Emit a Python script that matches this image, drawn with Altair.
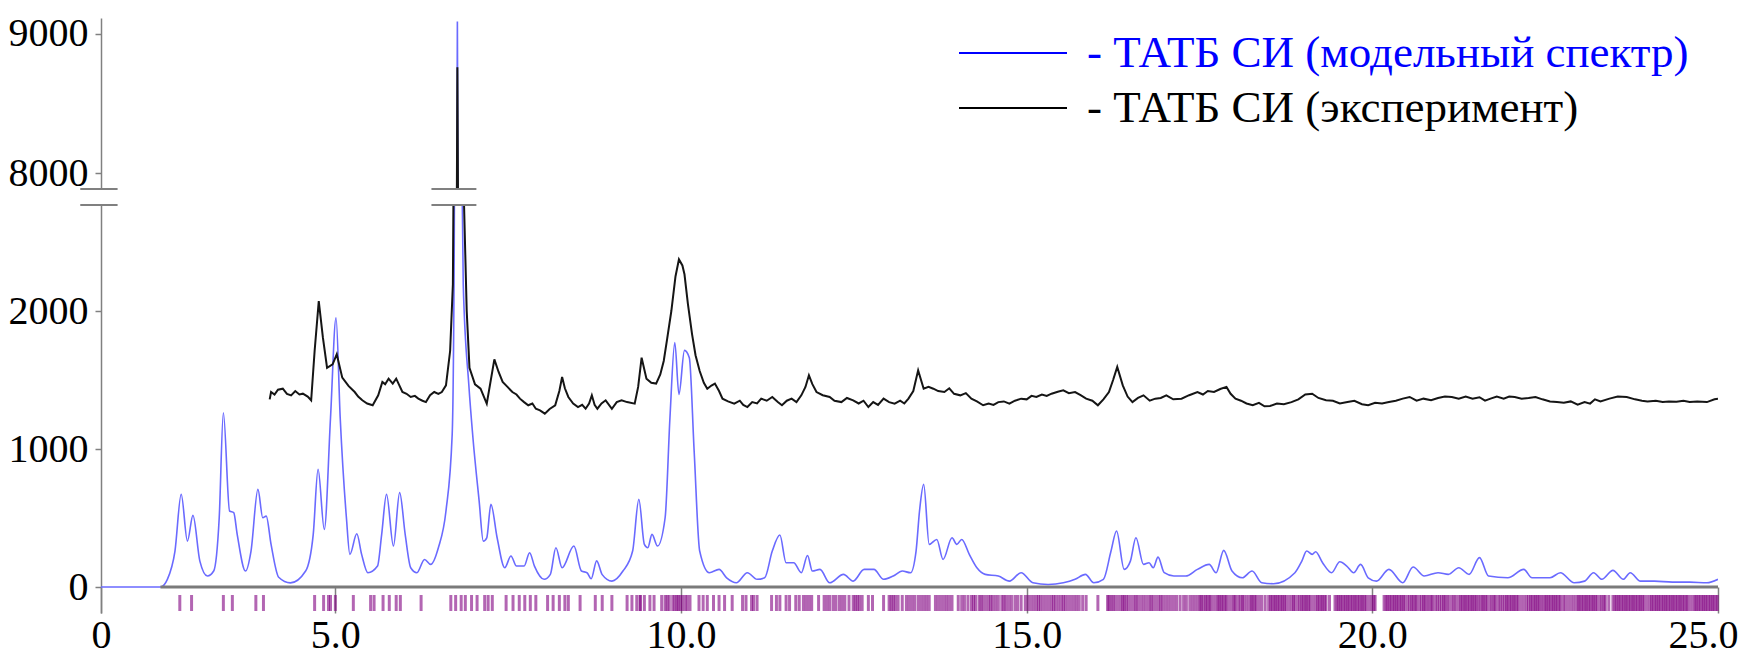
import altair as alt
import pandas as pd

# ---------------- data ----------------
model_x = [1.61, 2.47, 2.57, 2.68, 2.77, 2.86, 2.94, 3.04, 3.15, 3.24, 3.32, 3.38, 3.47, 3.53, 3.58,
           3.70, 3.78, 3.88, 3.95, 4.00, 4.07, 4.18, 4.35, 4.57, 4.68, 4.75, 4.84, 4.93, 5.01, 5.07,
           5.16, 5.21, 5.31, 5.38, 5.47, 5.61, 5.67, 5.74, 5.84, 5.93, 6.01, 6.09, 6.18, 6.29, 6.38,
           6.49, 6.60, 6.69, 6.72, 6.75, 6.765, 6.78, 6.82, 6.85, 6.93, 6.99, 7.08, 7.14, 7.19, 7.25,
           7.34, 7.45, 7.54, 7.62, 7.73, 7.81, 7.88, 8.02, 8.11, 8.19, 8.28, 8.45, 8.56, 8.64, 8.70,
           8.78, 8.86, 9.00, 9.16, 9.30, 9.39, 9.47, 9.52, 9.58, 9.66, 9.77, 9.84, 9.91, 9.97, 10.05,
           10.12, 10.19, 10.27, 10.41, 10.55, 10.66, 10.80, 10.96, 11.10, 11.21, 11.32, 11.43, 11.52,
           11.63, 11.74, 11.83, 11.90, 12.01, 12.15, 12.35, 12.49, 12.65, 12.79, 12.93, 13.07, 13.20,
           13.32, 13.40, 13.45, 13.51, 13.59, 13.70, 13.79, 13.92, 13.99, 14.06, 14.17, 14.28, 14.40,
           14.59, 14.75, 14.92, 15.09, 15.31, 15.53, 15.70, 15.85, 15.97, 16.11, 16.22, 16.30, 16.41,
           16.50, 16.58, 16.69, 16.77, 16.83, 16.90, 16.99, 17.13, 17.30, 17.47, 17.64, 17.74, 17.85,
           17.97, 18.12, 18.26, 18.40, 18.57, 18.88, 18.98, 19.05, 19.13, 19.18, 19.28, 19.41, 19.53,
           19.63, 19.73, 19.83, 19.94, 20.06, 20.24, 20.44, 20.59, 20.75, 20.95, 21.10, 21.25, 21.40,
           21.55, 21.68, 21.96, 22.19, 22.31, 22.57, 22.72, 22.92, 23.07, 23.20, 23.32, 23.48, 23.63,
           23.73, 23.88, 24.08, 24.34, 24.59, 24.84, 25.00]
model_y = [0, 0, 56, 261, 672, 333, 519, 188, 80, 116, 502, 1263, 551, 539, 382,
           116, 261, 708, 502, 514, 309, 71, 30, 116, 382, 853, 418, 1227, 1951, 1227,
           502, 237, 386, 237, 104, 152, 382, 672, 297, 684, 382, 140, 104, 200, 164,
           285, 551, 1106, 2500, 7000, 9090, 7000, 3500, 2193, 1469, 1082, 623, 333, 357, 599,
           357, 140, 225, 152, 152, 249, 152, 56, 92, 285, 140, 297, 116, 104, 60,
           190, 90, 43, 116, 261, 635, 309, 285, 382, 297, 502, 1227, 1771, 1396, 1715,
           1662, 985, 261, 104, 128, 67, 31, 104, 56, 67, 261, 377, 176,
           176, 104, 229, 116, 128, 31, 92, 43, 128, 128, 56, 80, 116,
           104, 261, 551, 744, 309, 345, 200, 357, 309, 345, 237, 140, 92,
           80, 43, 104, 31, 19, 31, 56, 92, 31, 56, 261, 406, 128,
           188, 357, 164, 176, 140, 217, 104, 80, 80, 128, 164, 104, 266,
           116, 67, 116, 31, 24, 104, 188, 261, 237, 256, 176, 104, 183,
           152, 104, 164, 67, 43, 128, 31, 145, 80, 104, 92, 140, 92,
           213, 80, 67, 128, 67, 67, 104, 31, 43, 104, 56, 121, 56,
           104, 43, 43, 36, 36, 31, 56]

exp_x = [4.05, 4.07, 4.12, 4.17, 4.24, 4.30, 4.36, 4.42, 4.48, 4.53, 4.60, 4.65, 4.70, 4.76, 4.82,
         4.88, 4.96, 5.02, 5.10, 5.19, 5.28, 5.33, 5.39, 5.46, 5.54, 5.62, 5.68, 5.72, 5.77, 5.83,
         5.88, 5.97, 6.03, 6.09, 6.15, 6.20, 6.26, 6.31, 6.37, 6.43, 6.49, 6.54, 6.60, 6.66, 6.70,
         6.73, 6.765, 6.80, 6.85, 6.90, 6.94, 7.02, 7.10, 7.19, 7.30, 7.36, 7.42, 7.49, 7.56, 7.62,
         7.67, 7.73, 7.79, 7.85, 7.90, 7.96, 8.03, 8.10, 8.18, 8.24, 8.28, 8.32, 8.37, 8.44, 8.51,
         8.57, 8.62, 8.67, 8.71, 8.75, 8.79, 8.85, 8.91, 9.00, 9.07, 9.14, 9.22, 9.33, 9.38, 9.43,
         9.50, 9.57, 9.64, 9.70, 9.75, 9.80, 9.86, 9.92, 9.97, 10.02, 10.05, 10.10, 10.16, 10.21,
         10.27, 10.33, 10.38, 10.44, 10.49, 10.55, 10.60, 10.68, 10.77, 10.85, 10.90, 10.96, 11.03,
         11.10, 11.16, 11.24, 11.32, 11.40, 11.46, 11.53, 11.60, 11.67, 11.74, 11.80, 11.85, 11.90,
         11.96, 12.05, 12.15, 12.22, 12.32, 12.40, 12.49, 12.57, 12.64, 12.71, 12.78, 12.85, 12.93,
         13.01, 13.09, 13.17, 13.23, 13.29, 13.36, 13.43, 13.51, 13.58, 13.65, 13.72, 13.81, 13.88,
         13.95, 14.04, 14.12, 14.20, 14.28, 14.37, 14.45, 14.52, 14.59, 14.67, 14.75, 14.83, 14.92,
         15.00, 15.07, 15.14, 15.22, 15.29, 15.36, 15.45, 15.53, 15.61, 15.70, 15.78, 15.86, 15.95,
         16.03, 16.11, 16.19, 16.25, 16.31, 16.39, 16.46, 16.53, 16.61, 16.69, 16.78, 16.86, 16.94,
         17.02, 17.12, 17.24, 17.35, 17.47, 17.55, 17.62, 17.71, 17.80, 17.89, 17.95, 18.02, 18.10,
         18.18, 18.27, 18.36, 18.44, 18.52, 18.62, 18.72, 18.83, 18.93, 19.03, 19.13, 19.22, 19.33,
         19.43, 19.53, 19.64, 19.74, 19.85, 19.94, 20.04, 20.14, 20.24, 20.34, 20.44, 20.54, 20.64,
         20.74, 20.85, 20.95, 21.05, 21.15, 21.25, 21.35, 21.45, 21.55, 21.63, 21.71, 21.80, 21.90,
         21.98, 22.06, 22.16, 22.26, 22.36, 22.46, 22.57, 22.67, 22.77, 22.87, 22.97, 23.07, 23.15,
         23.22, 23.30, 23.43, 23.55, 23.68, 23.80, 23.90, 23.98, 24.10, 24.20, 24.29, 24.40, 24.50,
         24.59, 24.70, 24.84, 24.95, 25.00]
exp_y = [1360, 1413, 1395, 1430, 1437, 1400, 1389, 1420, 1395, 1401, 1380, 1353, 1710, 2072, 1807,
         1589, 1614, 1686, 1517, 1457, 1413, 1380, 1353, 1330, 1317, 1389, 1486, 1470, 1510, 1474,
         1510, 1413, 1400, 1377, 1385, 1365, 1350, 1340, 1390, 1413, 1400, 1413, 1461, 1710, 2193,
         4500, 8760, 5200, 3000, 2000, 1589, 1469, 1437, 1329, 1650, 1560, 1486, 1450, 1413, 1395,
         1365, 1340, 1317, 1330, 1292, 1280, 1256, 1290, 1317, 1420, 1522, 1440, 1377, 1330, 1304,
         1320, 1292, 1330, 1389, 1320, 1292, 1330, 1353, 1292, 1340, 1353, 1340, 1329, 1450, 1662,
         1510, 1480, 1474, 1540, 1638, 1800, 2000, 2250, 2374, 2330, 2266, 2050, 1831, 1680,
         1565, 1480, 1437, 1460, 1474, 1420, 1365, 1345, 1329, 1350, 1320, 1304, 1340,
         1330, 1365, 1350, 1377, 1340, 1317, 1350, 1365, 1340, 1389, 1450, 1534, 1470,
         1413, 1390, 1377, 1350, 1340, 1370, 1353, 1330, 1350, 1304, 1340, 1320, 1365,
         1340, 1329, 1350, 1330, 1365, 1420, 1570, 1437, 1450, 1437, 1420, 1413, 1440,
         1400, 1389, 1405, 1365, 1345, 1317, 1330, 1320, 1340, 1345, 1329, 1350, 1365,
         1360, 1385, 1377, 1395, 1385, 1401, 1415, 1425, 1405, 1413, 1390, 1365, 1350,
         1317, 1360, 1413, 1500, 1595, 1461, 1380, 1340, 1370, 1389, 1350, 1365, 1370,
         1389, 1360, 1365, 1390, 1413, 1395, 1420, 1413, 1435, 1450, 1400, 1365, 1350,
         1330, 1317, 1335, 1310, 1312, 1330, 1325, 1340, 1360, 1395, 1401, 1370, 1353,
         1350, 1330, 1340, 1350, 1325, 1317, 1335, 1330, 1340, 1350, 1365, 1377, 1350,
         1365, 1353, 1370, 1380, 1377, 1365, 1380, 1365, 1375, 1350, 1365, 1380, 1365,
         1380, 1377, 1365, 1370, 1377, 1360, 1345, 1340, 1335, 1345, 1321, 1340, 1329,
         1360, 1345, 1365, 1380, 1377, 1360, 1350, 1345, 1350, 1340, 1345, 1342, 1350,
         1340, 1345, 1340, 1360, 1365]

reflections_low = [2.75, 2.92, 3.38, 3.51, 3.85, 3.96, 4.70, 4.83, 4.90, 4.93, 5.00, 5.26, 5.51,
                   5.56, 5.69, 5.78, 5.88, 5.94, 6.24, 6.67, 6.74, 6.82, 6.88, 6.97, 7.05, 7.16,
                   7.21, 7.27, 7.47, 7.57, 7.66, 7.74, 7.82, 7.90, 8.07, 8.15, 8.24, 8.32, 8.37,
                   8.54, 8.76]
reflections_mid = [8.86, 9.00, 9.22, 9.29, 9.36, 9.41, 9.47, 9.55, 9.61, 9.72, 9.77, 9.83, 9.88,
                   9.94, 9.99, 10.06, 10.13, 10.26, 10.32, 10.38, 10.47, 10.55, 10.63, 10.74,
                   10.89, 10.94, 11.02, 11.10, 11.31, 11.38, 11.43, 11.52, 11.57, 11.66, 11.71,
                   11.77, 11.85, 11.89, 11.99, 12.07, 12.15, 12.24, 12.29, 12.37, 12.43, 12.49,
                   12.55, 12.62, 12.71, 12.77, 12.93, 13.01, 13.07, 13.14, 13.20, 13.26, 13.34,
                   13.43, 13.51, 13.59, 13.68, 13.76, 13.84, 13.92, 14.01, 14.06, 14.15, 14.20,
                   14.26, 14.31, 14.37, 14.45, 14.51, 14.59, 14.64, 14.70, 14.78, 14.87, 14.92,
                   14.98, 15.06, 15.14, 15.20, 15.28, 15.36, 15.42, 15.50, 15.56, 15.64, 15.72,
                   15.81, 15.86, 16.03, 16.17, 16.22, 16.28, 16.36, 16.41, 16.47, 16.55, 16.61,
                   16.69, 16.77, 16.83, 16.91, 16.97, 17.05, 17.13, 17.22, 17.27, 17.36, 17.44]
reflections_mid2 = [9.41, 9.80, 9.91, 9.96, 10.02, 10.09, 11.05, 11.81, 12.11, 12.20, 12.33,
                    12.52, 12.58, 13.04, 13.10, 13.30, 13.38, 13.47, 13.55, 13.72, 13.80, 13.88,
                    14.10, 14.23, 14.34, 14.41, 14.48, 14.55, 14.67, 14.74, 14.83, 15.02, 15.10,
                    15.17, 15.24, 15.32, 15.39, 15.46, 15.53, 15.60, 15.68, 15.76, 16.19, 16.25,
                    16.32, 16.39, 16.44, 16.51, 16.58, 16.65, 16.73, 16.80, 16.87, 16.94, 17.01,
                    17.09, 17.17, 17.31, 17.40, 17.48]
reflections_high = [17.51, 17.56, 17.61, 17.66, 17.74, 17.79, 17.84, 17.89, 17.97, 18.02, 18.09,
                    18.14, 18.22, 18.27, 18.32, 18.40, 18.50, 18.55, 18.60, 18.65, 18.70, 18.75,
                    18.83, 18.88, 18.95, 19.00, 19.05, 19.10, 19.18, 19.23, 19.28, 19.33, 19.46,
                    19.51, 19.56, 19.61, 19.66, 19.71, 19.76, 19.81, 19.86, 19.91, 19.99, 20.04,
                    20.17, 20.22, 20.27, 20.32, 20.37, 20.42, 20.47, 20.54, 20.59, 20.64, 20.71,
                    20.76, 20.82, 20.87, 20.94, 21.00, 21.05, 21.11, 21.18, 21.25, 21.30, 21.35,
                    21.40, 21.45, 21.50, 21.56, 21.61, 21.66, 21.73, 21.78, 21.85, 21.91, 21.96,
                    22.01, 22.06, 22.11, 22.19, 22.26, 22.31, 22.36, 22.41, 22.47, 22.52, 22.57,
                    22.62, 22.67, 22.72, 22.79, 22.87, 22.95, 23.00, 23.05, 23.10, 23.15, 23.20,
                    23.25, 23.32, 23.37, 23.48, 23.53, 23.58, 23.63, 23.68, 23.73, 23.78, 23.83,
                    23.88, 23.93, 24.01, 24.06, 24.11, 24.16, 24.21, 24.26, 24.31, 24.36, 24.41,
                    24.46, 24.51, 24.56, 24.64, 24.69, 24.74, 24.79, 24.84, 24.89, 24.94, 24.99]
reflections_high2 = [17.53, 17.59, 17.64, 17.70, 17.77, 17.82, 17.87, 17.93, 18.00, 18.06, 18.12,
                     18.18, 18.25, 18.30, 18.36, 18.45, 18.53, 18.58, 18.63, 18.68, 18.73, 18.79,
                     18.86, 18.92, 18.98, 19.03, 19.08, 19.14, 19.21, 19.26, 19.31, 19.38, 19.49,
                     19.54, 19.59, 19.64, 19.69, 19.74, 19.79, 19.84, 19.89, 19.95, 20.02, 20.20,
                     20.25, 20.30, 20.35, 20.40, 20.45, 20.51, 20.57, 20.62, 20.68, 20.74, 20.79,
                     20.85, 20.91, 20.97, 21.03, 21.08, 21.15, 21.21, 21.28, 21.33, 21.38, 21.43,
                     21.48, 21.53, 21.59, 21.64, 21.70, 21.76, 21.82, 21.88, 21.94, 21.99, 22.04,
                     22.09, 22.15, 22.23, 22.29, 22.34, 22.39, 22.44, 22.50, 22.55, 22.60, 22.65,
                     22.70, 22.76, 22.83, 22.91, 22.98, 23.03, 23.08, 23.13, 23.18, 23.23, 23.29,
                     23.35, 23.42, 23.51, 23.56, 23.61, 23.66, 23.71, 23.76, 23.81, 23.86, 23.91,
                     23.97, 24.04, 24.09, 24.14, 24.19, 24.24, 24.29, 24.34, 24.39, 24.44, 24.49,
                     24.54, 24.60, 24.67, 24.72, 24.77, 24.82, 24.87, 24.92, 24.97]

x_tick_values = [1.61, 5, 10, 15, 20, 25]
y_ticks_low = [0, 1000, 2000]
y_ticks_high = [8000, 9000]
baseline_start = [2.47]
baseline_end = [25.0]
break_start = [1.31, 6.39]
break_end = [1.85, 7.04]
legend_labels = ["- ТАТБ СИ (модельный спектр)", "- ТАТБ СИ (эксперимент)"]
legend_colors = ["#0000ff", "#000000"]

# ---------------- layout constants ----------------
FONT = "Liberation Serif"
W = 1617
H_HIGH = 171
H_LOW = 408
X_DOMAIN = [1.61, 25]
LOW_DOMAIN = [-188, 2768]
HIGH_DOMAIN = [7885, 9115]
BLUE = "#6a6aff"
GRAY = "#808080"

model_df = pd.DataFrame({"x": model_x, "y": model_y})
exp_df = pd.DataFrame({"x": exp_x, "y": exp_y})
refl_df = pd.DataFrame({"x": reflections_low + reflections_mid + reflections_mid2
                        + reflections_high + reflections_high2})
base_df = pd.DataFrame({"x": baseline_start, "x2": baseline_end, "y": [0]})
break_df = pd.DataFrame({"x": break_start, "x2": break_end})

xscale = alt.Scale(domain=X_DOMAIN, nice=False, zero=False)

# ---------------- lower panel ----------------
x_low = alt.X(
    "x:Q", scale=xscale,
    axis=alt.Axis(
        values=x_tick_values, title=None, grid=False, domain=False,
        labelExpr="datum.value < 2 ? '0' : format(datum.value, '.1f')",
        tickSize=26, offset=-26, tickColor=GRAY, tickWidth=1.5,
        labelFont=FONT, labelFontSize=40, labelColor="black", labelPadding=2,
        labelFlush=False,
        labelAlign={"condition": {"test": "datum.value > 24.9", "value": "right"}, "value": "center"},
        labelOffset={"condition": {"test": "datum.value > 24.9", "value": 20}, "value": 0},
    ),
)
y_low = alt.Y(
    "y:Q", scale=alt.Scale(domain=LOW_DOMAIN, nice=False, zero=False),
    axis=alt.Axis(
        values=y_ticks_low, format="d", title=None, grid=False,
        domainColor=GRAY, domainWidth=1.5, tickColor=GRAY, tickSize=6, tickWidth=1.5,
        labelFont=FONT, labelFontSize=40, labelColor="black", labelPadding=7,
    ),
)

low_model = alt.Chart(model_df).mark_line(color=BLUE, strokeWidth=1.6, clip=True,
                                          interpolate="monotone").encode(x=x_low, y=y_low)
low_exp = alt.Chart(exp_df).mark_line(color="#151515", strokeWidth=2, clip=True).encode(
    x=alt.X("x:Q", scale=xscale), y=alt.Y("y:Q"))
low_base = alt.Chart(base_df).mark_rule(color="#7a7a7a", strokeWidth=3).encode(
    x=alt.X("x:Q", scale=xscale), x2="x2:Q", y=alt.Y("y:Q"))
low_refl = alt.Chart(refl_df).mark_rule(color="#800080", strokeWidth=3, opacity=0.6).encode(
    x=alt.X("x:Q", scale=xscale), y=alt.value(390), y2=alt.value(406))
low_break = alt.Chart(break_df).mark_rule(color=GRAY, strokeWidth=2, clip=False).encode(
    x=alt.X("x:Q", scale=xscale), x2="x2:Q", y=alt.value(0))

lower = alt.layer(low_model, low_base, low_refl, low_exp, low_break).properties(width=W, height=H_LOW)

# ---------------- upper panel ----------------
x_high = alt.X("x:Q", scale=xscale, axis=None)
y_high = alt.Y(
    "y:Q", scale=alt.Scale(domain=HIGH_DOMAIN, nice=False, zero=False),
    axis=alt.Axis(
        values=y_ticks_high, format="d", title=None, grid=False,
        domainColor=GRAY, domainWidth=1.5, tickColor=GRAY, tickSize=6, tickWidth=1.5,
        labelFont=FONT, labelFontSize=40, labelColor="black", labelPadding=7,
    ),
)
up_model = alt.Chart(model_df).mark_line(color=BLUE, strokeWidth=1.6, clip=True).encode(x=x_high, y=y_high)
up_exp = alt.Chart(exp_df).mark_line(color="#151515", strokeWidth=2, clip=True).encode(
    x=alt.X("x:Q", scale=xscale, axis=None), y=alt.Y("y:Q"))
up_break = alt.Chart(break_df).mark_rule(color=GRAY, strokeWidth=2, clip=False).encode(
    x=alt.X("x:Q", scale=xscale, axis=None), x2="x2:Q", y=alt.value(H_HIGH))

legend_layers = []
for i, (lab, col) in enumerate(zip(legend_labels, legend_colors)):
    ypos = 35 + i * 55
    ldf = pd.DataFrame({"t": [lab]})
    legend_layers.append(
        alt.Chart(ldf).mark_rule(color=col, strokeWidth=2).encode(
            x=alt.value(858), x2=alt.value(966), y=alt.value(ypos)))
    legend_layers.append(
        alt.Chart(ldf).mark_text(align="left", baseline="middle", font=FONT, fontSize=45, color=col).encode(
            x=alt.value(986), y=alt.value(ypos), text="t:N"))

upper = alt.layer(up_model, up_exp, up_break, *legend_layers).properties(width=W, height=H_HIGH)

chart = alt.vconcat(upper, lower, spacing=16, bounds="flush").properties(
    padding={"left": 0, "top": 5, "right": 0, "bottom": 0}
).configure(
    background="white",
    view=alt.ViewConfig(stroke="transparent", strokeWidth=0),
)

chart.save("out.html", embed_options={"renderer": "svg", "actions": False})
